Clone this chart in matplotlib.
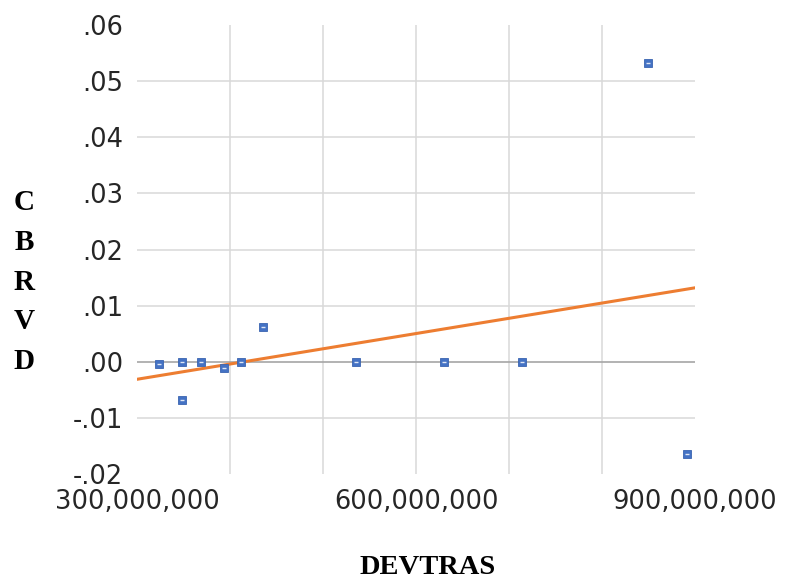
import matplotlib
matplotlib.use("Agg")
import matplotlib.pyplot as plt
from matplotlib.ticker import FuncFormatter
import numpy as np

# valores
devtras = [323.7e6, 348e6, 368.5e6, 393.5e6, 411.8e6, 435.8e6, 348e6,
           536e6, 630.4e6, 713.7e6, 849e6, 891.7e6]
cbrvd = [-0.0004, 0.0, 0.0, -0.0012, 0.0, 0.0062, -0.0069,
         0.0, 0.0, 0.0, 0.0532, -0.0164]
x_ticks = [300e6, 600e6, 900e6]
x_grid = [400e6, 500e6, 600e6, 700e6, 800e6]
y_ticks = [-0.02, -0.01, 0.0, 0.01, 0.02, 0.03, 0.04, 0.05, 0.06]
y_grid = [-0.01, 0.01, 0.02, 0.03, 0.04, 0.05]


def fmt_y(v, pos):
    s = f"{v:.2f}"
    if s == "-0.00":
        s = "0.00"
    return s.replace("0.", ".", 1)


def fmt_x(v, pos):
    return f"{v:,.0f}"


fig = plt.figure(figsize=(7.9, 5.83), dpi=100)
ax = fig.add_axes([137 / 790, 1 - 474 / 583, (695 - 137) / 790, (474 - 25) / 583])

for g in x_grid:
    ax.axvline(g, color="#d9d9d9", linewidth=1.1, zorder=0)
for g in y_grid:
    ax.axhline(g, color="#d9d9d9", linewidth=1.1, zorder=0)
ax.axhline(0, color="#a6a6a6", linewidth=1.2, zorder=1)

# linha de tendencia linear
a, b = np.polyfit(devtras, cbrvd, 1)
xs = np.array([300e6, 900e6])
ax.plot(xs, a * xs + b, color="#ED7D31", linewidth=2.2, zorder=2)

ax.plot(devtras, cbrvd, linestyle="none", marker="s", markersize=6.3,
        markerfacecolor="#4472C4", markeredgecolor="#3a64b0",
        markeredgewidth=0.6, zorder=3)
ax.plot(devtras, cbrvd, linestyle="none", marker="_", markersize=3,
        markeredgecolor="#dfe7f5", markeredgewidth=1.0, zorder=4)

ax.set_xlim(300e6, 900e6)
ax.set_ylim(-0.02, 0.06)
ax.set_xticks(x_ticks)
ax.set_yticks(y_ticks)
ax.xaxis.set_major_formatter(FuncFormatter(fmt_x))
ax.yaxis.set_major_formatter(FuncFormatter(fmt_y))
ax.tick_params(length=0, labelsize=18.5, labelcolor="#262626")
ax.tick_params(axis="x", pad=11)
ax.tick_params(axis="y", pad=10)
for sp in ax.spines.values():
    sp.set_visible(False)

fig.text(24 / 790, 1 - 282 / 583, "C\nB\nR\nV\nD", ha="center", va="center",
         family="Liberation Serif", fontweight="bold", fontsize=21,
         linespacing=1.6)
fig.text(428 / 790, 1 - 567 / 583, "DEVTRAS", ha="center", va="center",
         family="Liberation Serif", fontweight="bold", fontsize=20.5)

fig.savefig("out.png", dpi=100)
